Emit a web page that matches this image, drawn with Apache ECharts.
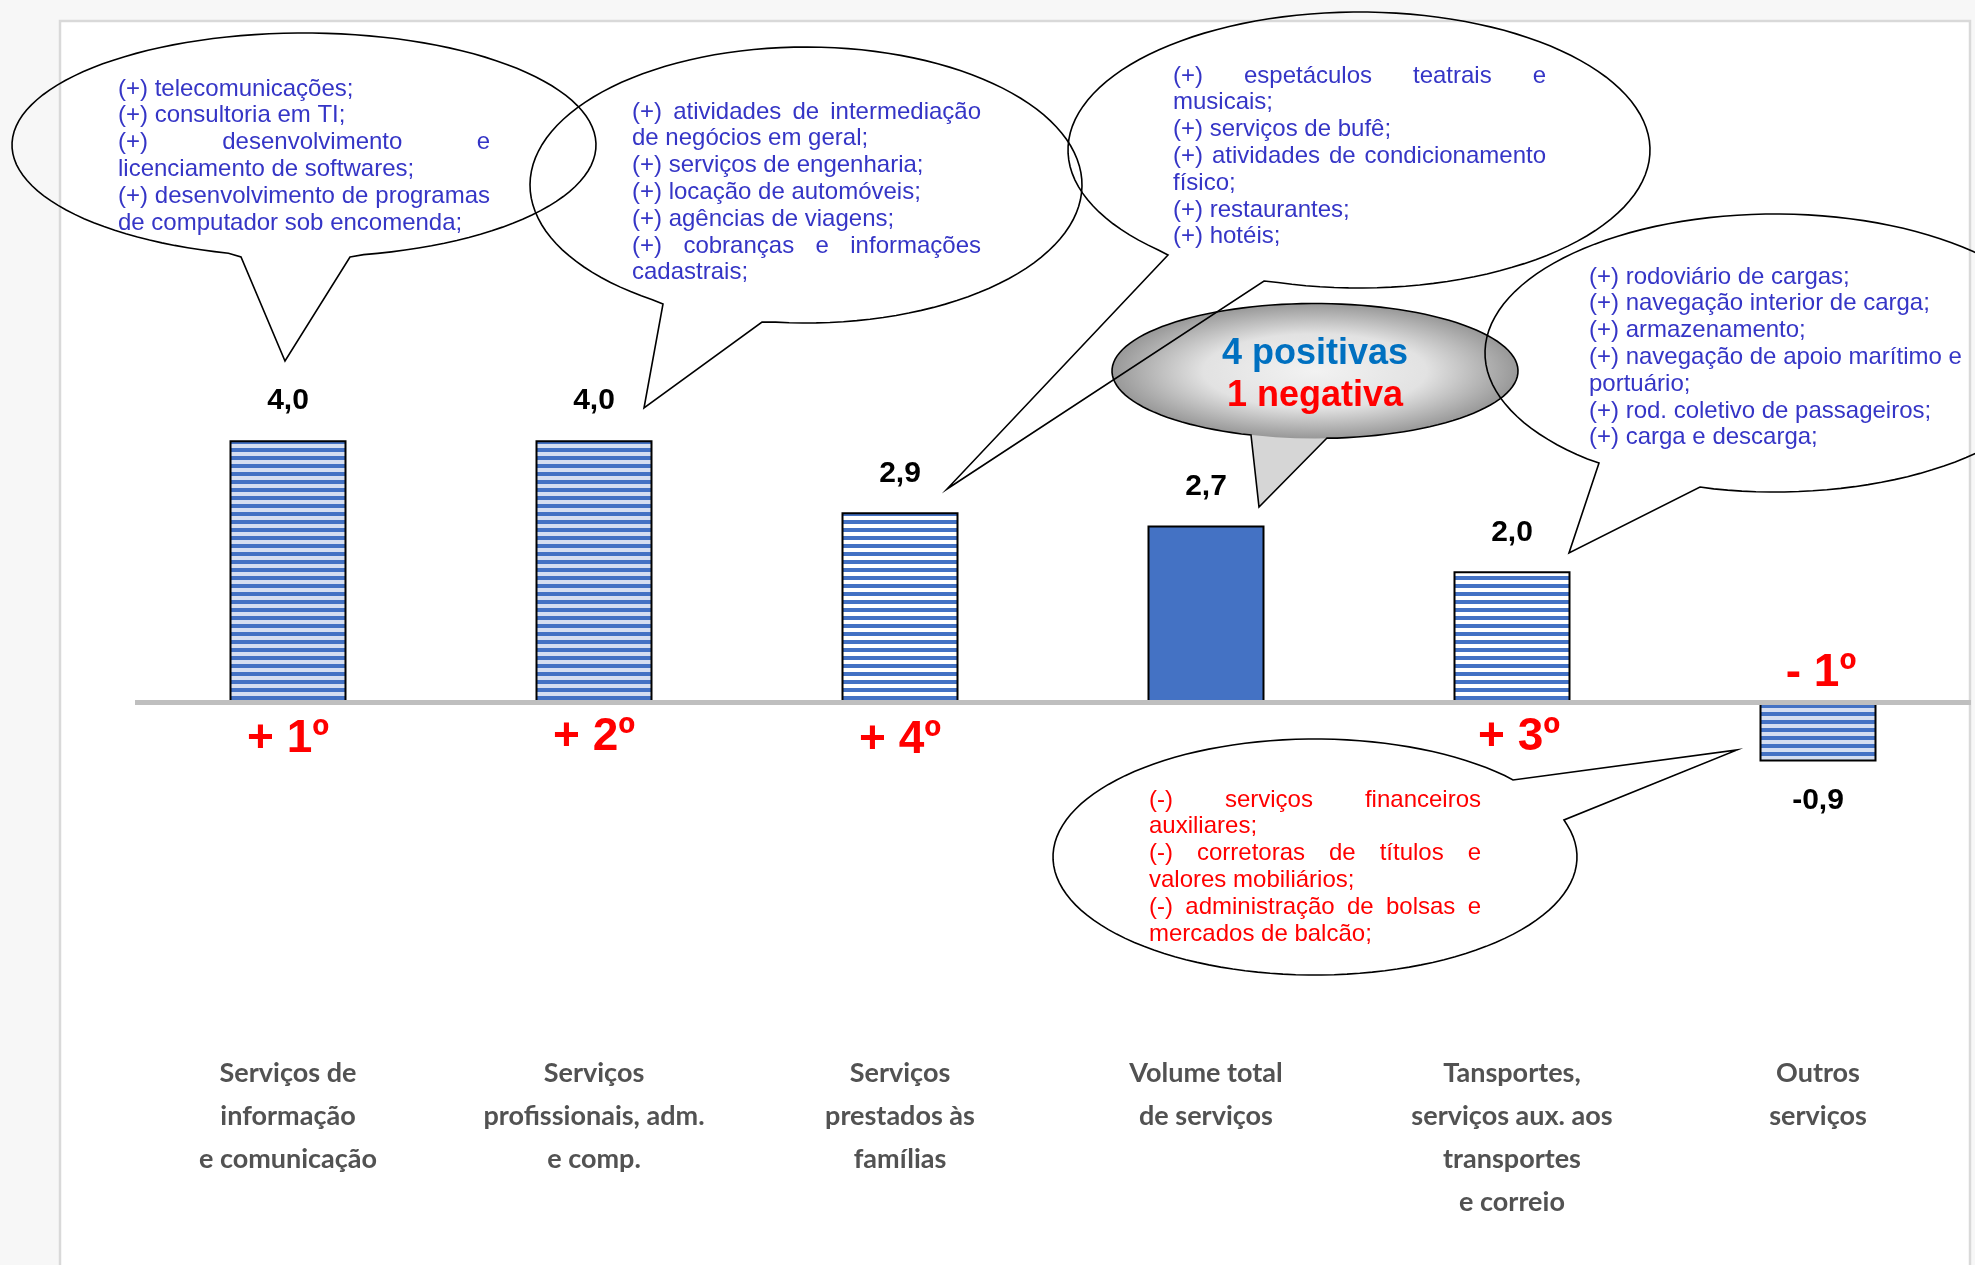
<!DOCTYPE html>
<html>
<head>
<meta charset="utf-8">
<script src="https://cdn.jsdelivr.net/npm/echarts@6/dist/echarts.min.js"></script>
<style>
  html, body { margin: 0; padding: 0; background: #f7f7f7; }
  #chart { width: 1975px; height: 1265px; }
</style>
</head>
<body>
<div id="chart"></div>
<script>
const categories = [
  'Serviços de\ninformação\ne comunicação',
  'Serviços\nprofissionais, adm.\ne comp.',
  'Serviços\nprestados às\nfamílias',
  'Volume total\nde serviços',
  'Tansportes,\nserviços aux. aos\ntransportes\ne correio',
  'Outros\nserviços'
]
const values = [4.0, 4.0, 2.9, 2.7, 2.0, -0.9]
const ranks = ['+ 1º', '+ 2º', '+ 4º', '', '+ 3º', '- 1º']

const notesInfo = [
  '(+) telecomunicações;',
  '(+) consultoria em TI;',
  '(+) desenvolvimento e',
  'licenciamento de softwares;',
  '(+) desenvolvimento de programas',
  'de computador sob encomenda;'
]
const notesProf = [
  '(+) atividades de intermediação',
  'de negócios em geral;',
  '(+) serviços de engenharia;',
  '(+) locação de automóveis;',
  '(+) agências de viagens;',
  '(+) cobranças e informações',
  'cadastrais;'
]
const notesFamilias = [
  '(+) espetáculos teatrais e',
  'musicais;',
  '(+) serviços de bufê;',
  '(+) atividades de condicionamento',
  'físico;',
  '(+) restaurantes;',
  '(+) hotéis;'
]
const notesTransportes = [
  '(+) rodoviário de cargas;',
  '(+) navegação interior de carga;',
  '(+) armazenamento;',
  '(+) navegação de apoio marítimo e',
  'portuário;',
  '(+) rod. coletivo de passageiros;',
  '(+) carga e descarga;'
]
const notesOutros = [
  '(-) serviços financeiros',
  'auxiliares;',
  '(-) corretoras de títulos e',
  'valores mobiliários;',
  '(-) administração de bolsas e',
  'mercados de balcão;'
]
const summaryLines = ['4 positivas', '1 negativa']

const BLUE = '#4472c4'
const NOTE_FONT = '24px "Liberation Sans", Arial, sans-serif'
const LINE_STEP = 26.8

// horizontal stripes like the Excel pattern fill
function stripes(bg) {
  const c = document.createElement('canvas')
  c.width = 8
  c.height = 8
  const g = c.getContext('2d')
  g.fillStyle = bg
  g.fillRect(0, 0, 8, 8)
  g.fillStyle = BLUE
  g.fillRect(0, 0, 8, 4)
  return { image: c, repeat: 'repeat' }
}

const barFills = [stripes('#d5def1'), stripes('#d5def1'), stripes('#ffffff'), BLUE, stripes('#ffffff'), stripes('#d5def1')]
const rankOffsets = [[0, 37], [0, 35], [0, 38], [0, 0], [7, 35], [3, -29]]

const measureCtx = document.createElement('canvas').getContext('2d')

function textEl(text, x, y, font, color, align) {
  return {
    type: 'text', z: 20, silent: true,
    style: {
      text, x, y, font, fill: color,
      textAlign: align || 'left', align: align || 'left',
      textVerticalAlign: 'middle', verticalAlign: 'middle'
    }
  }
}

// justified paragraph text like in the Word callouts
function noteTexts(lines, box, color) {
  measureCtx.font = NOTE_FONT
  const els = []
  const width = box.right - box.left
  lines.forEach((line, i) => {
    const y = box.y + i * LINE_STEP
    const next = lines[i + 1]
    const justify = next !== undefined && !next.startsWith('(')
    const words = line.split(' ')
    const natural = measureCtx.measureText(line).width
    if (justify && words.length > 1 && natural < width) {
      const wordsW = words.reduce((s, w) => s + measureCtx.measureText(w).width, 0)
      const gap = (width - wordsW) / (words.length - 1)
      let x = box.left
      words.forEach(w => {
        els.push(textEl(w, x, y, NOTE_FONT, color))
        x += measureCtx.measureText(w).width + gap
      })
    } else {
      els.push(textEl(line, box.left, y, NOTE_FONT, color))
    }
  })
  return els
}

// ellipse with a pointer, as one closed outline
function balloonPoints(b) {
  const TWO_PI = Math.PI * 2
  const norm = a => ((a % TWO_PI) + TWO_PI) % TWO_PI
  const ang = p => Math.atan2((p[1] - b.cy) / b.ry, (p[0] - b.cx) / b.rx)
  const aStart = ang(b.base[1])
  const aEnd = ang(b.base[0])
  let sweep = norm(aEnd - aStart)
  if (norm(ang(b.tip) - aStart) < sweep) sweep = sweep - TWO_PI
  const pts = [b.base[1]]
  const n = 120
  for (let k = 1; k < n; k++) {
    const a = aStart + sweep * k / n
    pts.push([b.cx + b.rx * Math.cos(a), b.cy + b.ry * Math.sin(a)])
  }
  pts.push(b.base[0], b.tip)
  return pts
}

function balloonOutline(b) {
  return {
    type: 'polygon', z: 12, silent: true,
    shape: { points: balloonPoints(b) },
    style: { fill: 'none', stroke: '#000', lineWidth: 1.6 }
  }
}

const balloons = {
  info: { cx: 304, cy: 145, rx: 292, ry: 112, base: [[241, 257], [350, 257]], tip: [285, 361] },
  prof: { cx: 806, cy: 185, rx: 276, ry: 138, base: [[663, 304], [762, 322]], tip: [644, 408] },
  fam: { cx: 1359, cy: 150, rx: 291, ry: 138, base: [[1168, 255], [1264, 281]], tip: [947, 489] },
  transp: { cx: 1775, cy: 353, rx: 290, ry: 139, base: [[1599, 463], [1700, 487]], tip: [1569, 553] },
  outros: { cx: 1315, cy: 857, rx: 262, ry: 118, base: [[1513, 780], [1564, 820]], tip: [1737, 750] },
  total: { cx: 1315, cy: 371, rx: 203, ry: 67.5, base: [[1251, 435], [1327, 438]], tip: [1259, 507] }
}

const tb = balloons.total
const graphics = [
  {
    type: 'rect', z: -10, silent: true,
    shape: { x: 60, y: 21, width: 1910, height: 1300 },
    style: { fill: '#ffffff', stroke: '#d9d9d9', lineWidth: 2.5 }
  },
  {
    type: 'polygon', z: 8, silent: true,
    shape: { points: [tb.base[0], tb.tip, tb.base[1], [tb.base[1][0], tb.cy], [tb.base[0][0], tb.cy]] },
    style: { fill: '#d6d6d6' }
  },
  {
    type: 'circle', z: 9, silent: true,
    x: tb.cx, y: tb.cy, scaleY: tb.ry / tb.rx,
    shape: { cx: 0, cy: 0, r: tb.rx },
    style: {
      fill: {
        type: 'radial', x: 0.5, y: 0.5, r: 0.5,
        colorStops: [
          { offset: 0, color: '#f2f2f2' },
          { offset: 0.55, color: '#e2e2e2' },
          { offset: 1, color: '#989898' }
        ]
      }
    }
  },
  balloonOutline(balloons.total),
  balloonOutline(balloons.info),
  balloonOutline(balloons.prof),
  balloonOutline(balloons.fam),
  balloonOutline(balloons.transp),
  balloonOutline(balloons.outros),
  ...noteTexts(notesInfo, { left: 118, right: 490, y: 89 }, '#3535c6'),
  ...noteTexts(notesProf, { left: 632, right: 981, y: 112 }, '#3535c6'),
  ...noteTexts(notesFamilias, { left: 1173, right: 1546, y: 76 }, '#3535c6'),
  ...noteTexts(notesTransportes, { left: 1589, right: 1961, y: 277 }, '#3535c6'),
  ...noteTexts(notesOutros, { left: 1149, right: 1481, y: 800 }, '#ff0000'),
  textEl(summaryLines[0], 1315, 354, 'bold 36px "Liberation Sans", Arial, sans-serif', '#0070c0', 'center'),
  textEl(summaryLines[1], 1315, 396, 'bold 36px "Liberation Sans", Arial, sans-serif', '#ff0000', 'center')
]

const chart = echarts.init(document.getElementById('chart'))

const option = {
  backgroundColor: '#f7f7f7',
  animation: false,
  grid: { left: 135, right: 4, top: 309, bottom: 234.5, outerBoundsMode: 'none' },
  xAxis: {
    type: 'category',
    data: categories,
    position: 'bottom',
    axisLine: { show: false, onZero: false },
    axisTick: { show: false },
    splitLine: { show: false },
    axisLabel: {
      interval: 0,
      margin: 21,
      color: '#525252',
      fontFamily: 'Lato',
      fontWeight: 'bold',
      fontSize: 27,
      lineHeight: 43
    }
  },
  yAxis: {
    type: 'value',
    min: -5,
    max: 6,
    show: false,
    splitLine: { show: false }
  },
  graphic: graphics,
  series: [{
    type: 'bar',
    barWidth: 117,
    data: values.map((v, i) => ({
      value: v,
      itemStyle: { color: barFills[i] },
      label: { position: v < 0 ? 'bottom' : 'top' }
    })),
    itemStyle: { borderColor: '#000', borderWidth: 2 },
    label: {
      show: true,
      distance: 24,
      color: '#000',
      fontFamily: 'Liberation Sans',
      fontWeight: 'bold',
      fontSize: 30,
      formatter: p => p.value.toFixed(1).replace('.', ',')
    },
    markLine: {
      silent: true,
      symbol: 'none',
      label: { show: false },
      lineStyle: { color: '#bfbfbf', width: 5, type: 'solid' },
      data: [{ yAxis: 0 }]
    },
    markPoint: {
      silent: true,
      symbol: 'circle',
      symbolSize: 0,
      label: {
        show: true,
        position: 'inside',
        color: '#ff0000',
        fontFamily: 'Liberation Sans',
        fontWeight: 'bold',
        fontSize: 46,
        formatter: p => p.name
      },
      data: ranks.map((r, i) => ({
        name: r,
        coord: [categories[i], 0],
        label: { offset: rankOffsets[i] }
      })).filter(d => d.name)
    }
  }]
}

chart.setOption(option)
</script>
</body>
</html>
